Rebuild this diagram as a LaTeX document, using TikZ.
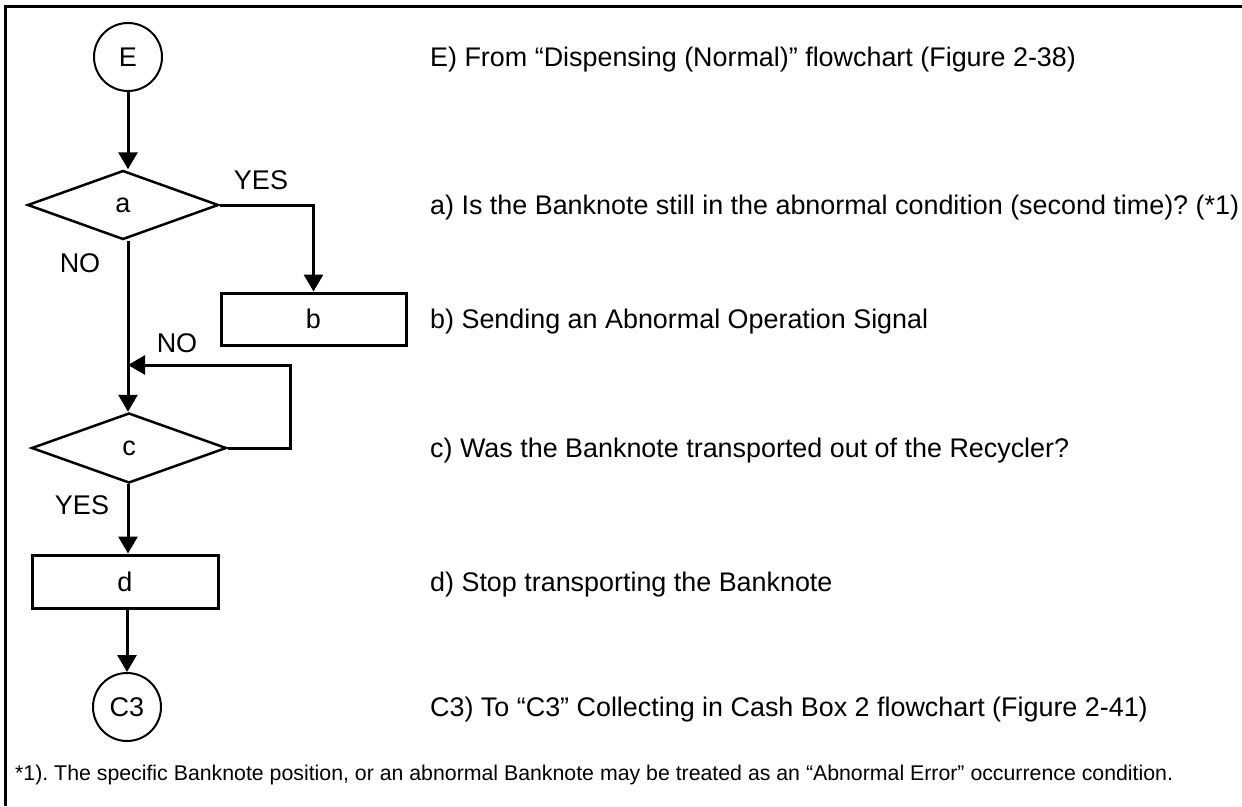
\documentclass[tikz,border=0pt]{standalone}
\usepackage{fontspec}
\setmainfont{Liberation Sans}
\usetikzlibrary{shapes.geometric,arrows.meta}
\frenchspacing
\begin{document}
\begin{tikzpicture}[x=1pt,y=-1pt,
  lbl/.style={font=\fontsize{27}{32}\selectfont},
  desc/.style={font=\fontsize{26.9}{31}\selectfont,anchor=base west,inner sep=0},
  conn/.style={circle,draw,line width=2pt,minimum size=68pt,inner sep=0,font=\fontsize{27}{32}\selectfont},
  dec/.style={diamond,draw,line width=2.5pt,inner sep=0,font=\fontsize{27}{32}\selectfont},
  proc/.style={rectangle,draw,line width=3pt,inner sep=0,font=\fontsize{27}{32}\selectfont},
  flow/.style={line width=3pt,-{Triangle[length=17pt,width=19pt]}},
  plain/.style={line width=3pt}]
\useasboundingbox (0,0) rectangle (1242,806);
\draw[line width=3pt] (5.5,806) -- (5.5,6) -- (1242,6);
% nodes
\node[conn] (E) at (128,57) {E};
\node[dec,minimum width=191pt,minimum height=69pt] (a) at (123,205) {a};
\node[proc,minimum width=185pt,minimum height=52pt] (b) at (313.5,319) {b};
\node[dec,minimum width=195pt,minimum height=70pt] (c) at (129,448) {c};
\node[proc,minimum width=186pt,minimum height=53pt] (d) at (125,581.5) {d};
\node[conn] (C3) at (127,707) {C3};
\coordinate (j) at (128,365);
\coordinate (r) at (290,365);
% connectors
\draw[flow] (E.south) -- (E.south |- a.north);
\draw[flow] (a.east) -| (b.north);
\draw[flow] (a.south -| E.south) -- (c.north -| E.south);
\draw[flow] (c.east) -| (r) -- (j);
\draw[flow] (c.south -| E.south) -- (d.north -| E.south);
\draw[flow] (d.south -| C3.north) -- (C3.north);
% labels
\node[lbl] (yesa) at (261,180) {YES};
\node[lbl] (noa) at (80,263) {NO};
\node[lbl] (noc) at (177,343) {NO};
\node[lbl] (yesc) at (82,505) {YES};
% descriptions
\node[desc] (tE) at (430,66) {E) From “Dispensing (Normal)” flowchart (Figure 2-38)};
\node[desc] (ta) at (430,214.5) {a) Is the Banknote still in the abnormal condition (second time)? (*1)};
\node[desc] (tb) at (430,328.5) {b) Sending an Abnormal Operation Signal};
\node[desc] (tc) at (430,457.5) {c) Was the Banknote transported out of the Recycler?};
\node[desc] (td) at (430,591.5) {d) Stop transporting the Banknote};
\node[desc] (tC3) at (430,716.5) {C3) To “C3” Collecting in Cash Box 2 flowchart (Figure 2-41)};
\node[desc,font=\fontsize{21.3}{25}\selectfont] (fn) at (15,780) {*1). The specific Banknote position, or an abnormal Banknote may be treated as an “Abnormal Error” occurrence condition.};
\end{tikzpicture}
\end{document}
